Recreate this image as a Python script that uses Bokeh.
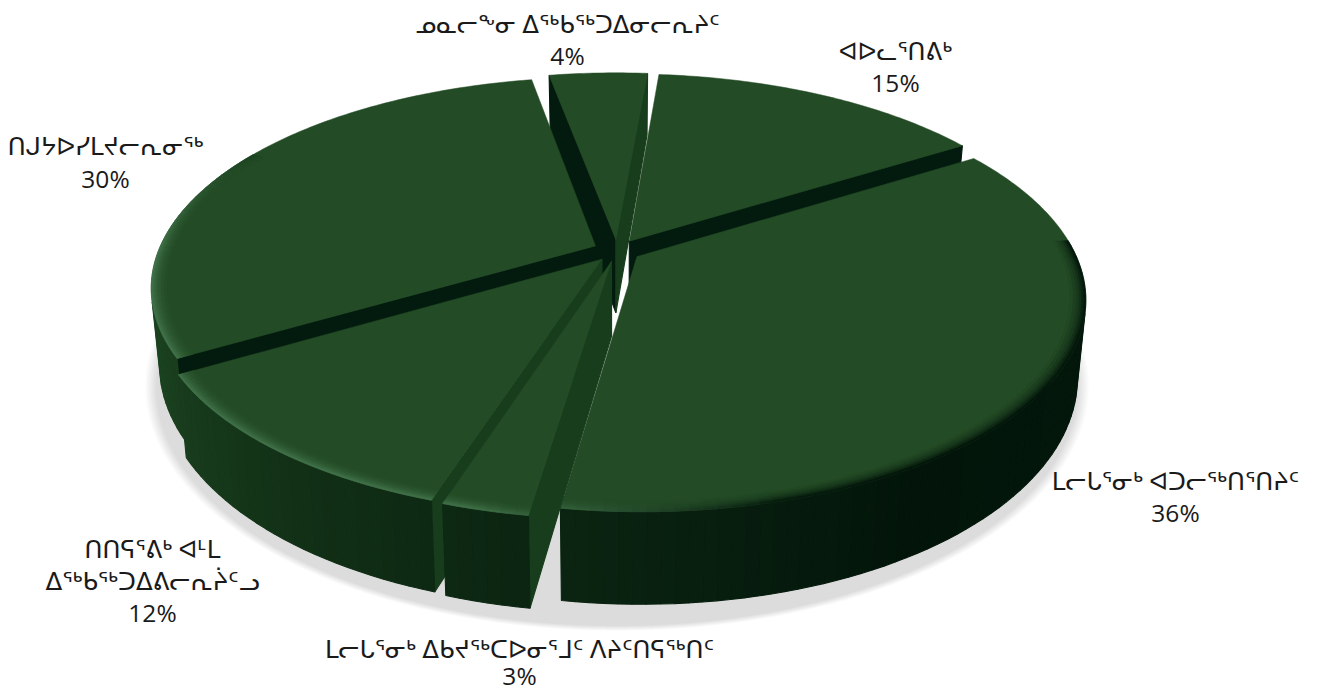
import numpy as np
from bokeh.plotting import figure
from bokeh.models import Range1d
from bokeh.core.properties import value
from bokeh.embed import file_html
from bokeh.resources import INLINE

# ---- data -------------------------------------------------------------
categories = [
    "ᓄᓇᓕᖕᓂ ᐃᖅᑲᖅᑐᐃᓂᓕᕆᔨᑦ",
    "ᐊᐅᓚᕐᑎᕕᒃ",
    "ᒪᓕᒐᕐᓂᒃ ᐊᑐᓕᖅᑎᕐᑎᔨᑦ",
    "ᒪᓕᒐᕐᓂᒃ ᐃᑲᔪᖅᑕᐅᓂᕐᒧᑦ ᐱᔨᑦᑎᕋᖅᑎᑦ",
    "ᑎᑎᕋᕐᕕᒃ ᐊᒻᒪ\nᐃᖅᑲᖅᑐᐃᕕᓕᕆᔩᑦᓗ",
    "ᑎᒍᔭᐅᓯᒪᔪᓕᕆᓂᖅ",
]
shares = [4.33, 14.78, 36.22, 2.61, 11.58, 30.48]

# ---- layout / style ---------------------------------------------------
START = 349.4          # clock angle where the first slice starts
CX, CY = 616.5, 250.0
R, K, P = 437.0, 0.4645, 0.194
EXPLODE = 24.0 / 442.0
H = 74.0
TAPER = 0.018
label_xy = [(567, 23, 55), (895, 50, 82), (1175, 480, 512),
            (519, 648, 675), (152, 548, 580, 612), (105, 145, 178)]
C_TOP = np.array([0x23, 0x4b, 0x25])
C_HI = np.array([0x3f, 0x70, 0x47])
RIM_STOPS = [(100, (4, 24, 12)), (150, (3, 21, 10)), (190, (11, 37, 18)),
             (215, (18, 48, 22)), (250, (27, 66, 32)), (300, (27, 66, 32)), (360, (27, 66, 32))]


def rgb(c):
    c = np.clip(np.round(c), 0, 255).astype(int)
    return "#%02x%02x%02x" % tuple(c)


def proj(X, Y, z=0.0):
    """Plane coordinates (unit radius, Y towards viewer) to page pixels."""
    s = 1.0 / (1.0 - P * Y)
    t = 1.0 - TAPER * z
    return CX + R * X * s * t, CY + K * R * Y * s + H * z * s


def polar(theta, r, ox, oy):
    a = np.radians(theta)
    return ox + r * np.sin(a), oy - r * np.cos(a)


def rim_colour(theta):
    th = theta % 360
    xs = [s[0] for s in RIM_STOPS]
    return np.array([np.interp(th, xs, [s[1][i] for s in RIM_STOPS]) for i in range(3)])


def signed_area(xs, ys):
    return 0.5 * sum(xs[i] * ys[(i + 1) % len(xs)] - xs[(i + 1) % len(xs)] * ys[i] for i in range(len(xs)))


p = figure(width=1318, height=692, x_range=Range1d(0, 1318), y_range=Range1d(692, 0),
           toolbar_location=None, output_backend="svg", min_border=0,
           outline_line_color=None, background_fill_color="white", border_fill_color="white")
p.axis.visible = False
p.grid.visible = False

# soft shadow: a ring under the pie, leaving the gaps near the centre white
ang = np.linspace(0, 360, 181)
for i in range(9):
    r = 1.075 - i * 0.003
    X, Y = polar(ang, r, 0, 0)
    Xi, Yi = polar(ang[::-1], 0.7, 0, 0)
    x, y = proj(np.r_[X, Xi], np.r_[Y, Yi], 1.0)
    p.patch(x, y + 11 + i * 0.4, fill_color="#777777", fill_alpha=0.03, line_color=None)

# slices
angles = np.cumsum([0] + shares) * 3.6 + START
slices = []
for i, sh in enumerate(shares):
    a0, a1 = angles[i], angles[i + 1]
    ox, oy = polar((a0 + a1) / 2, EXPLODE, 0, 0)
    slices.append((oy, i, a0, a1, ox, oy))
slices.sort()

for _, i, a0, a1, ox, oy in slices:
    px, py, pc = [], [], []

    def add(xs, ys, col):
        if signed_area(xs, ys) > 0:
            px.append(list(xs)); py.append(list(ys)); pc.append(col)

    # radial walls
    for th, side in ((a0, 0), (a1, 1)):
        ex, ey = polar(th, 1.0, ox, oy)
        x0, y0 = proj(ox, oy); x1, y1 = proj(ex, ey)
        x2, y2 = proj(ex, ey, 1.0); x3, y3 = proj(ox, oy, 1.0)
        normal = (th - 90) % 360 if side == 0 else (th + 90) % 360
        col = "#173d1c" if normal < 125 else "#031b0e"
        if side == 1:
            add([x0, x1, x2, x3], [y0, y1, y2, y3], col)
        else:
            add([x1, x0, x3, x2], [y1, y0, y3, y2], col)
    # outer rim
    n = max(int((a1 - a0) / 1.5), 3)
    th = np.linspace(a0, a1, n + 1)
    for j in range(n):
        ta, tb = th[j], th[j + 1]
        ax, ay = polar(ta, 1.0, ox, oy); bx, by = polar(tb, 1.0, ox, oy)
        x0, y0 = proj(ax, ay); x1, y1 = proj(bx, by)
        x2, y2 = proj(bx, by, 1.0); x3, y3 = proj(ax, ay, 1.0)
        add([x1, x0, x3, x2], [y1, y0, y3, y2], rgb(rim_colour((ta + tb) / 2)))
    p.patches(px, py, fill_color=pc, line_color=pc, line_width=1.1)

    # top face
    th = np.linspace(a0, a1, n * 2 + 1)
    ex, ey = polar(th, 1.0, ox, oy)
    tx, ty = proj(np.r_[ox, ex], np.r_[oy, ey])
    p.patch(tx, ty, fill_color=rgb(C_TOP), line_color=rgb(C_TOP), line_width=0.5)

    # bevel along the rim: blends the top colour to highlight / rim colour
    bands = [0.966, 0.973, 0.98, 0.986, 0.991, 0.996, 1.0]
    bx_, by_, bc_ = [], [], []
    for b in range(len(bands) - 1):
        r0, r1 = bands[b], bands[b + 1]
        f = (b + 1) / (len(bands) - 1)
        thb = np.linspace(a0, a1, n + 1)
        for j in range(n):
            ta, tb = thb[j], thb[j + 1]
            mid = ((ta + tb) / 2) % 360
            if not 85 <= mid <= 300:
                continue
            vis_hi = float(np.clip((mid - 165) / 30, 0, 1)) * (1 - float(np.clip((mid - 270) / 30, 0, 1)))
            rim = rim_colour(mid)
            target = C_HI * vis_hi + (1 - vis_hi) * rim
            col = C_TOP + (target - C_TOP) * (f ** 1.5)
            xa, ya = polar(ta, r0, 0, 0); xb, yb = polar(tb, r0, 0, 0)
            xc, yc = polar(tb, r1, 0, 0); xd, yd = polar(ta, r1, 0, 0)
            qx, qy = proj(np.array([xa, xb, xc, xd]) + ox, np.array([ya, yb, yc, yd]) + oy)
            bx_.append(list(qx)); by_.append(list(qy)); bc_.append(rgb(col))
    if bx_:
        p.patches(bx_, by_, fill_color=bc_, line_color=bc_, line_width=0.7)

# labels
FONT = value("Open Sans, DejaVu Sans")
for cat, sh, pos in zip(categories, shares, label_xy):
    lines = cat.split("\n") + [f"{round(sh)}%"]
    for ln, yy in zip(lines, pos[1:]):
        p.text([pos[0]], [yy], text=[ln], text_font=FONT, text_font_size="24.5px",
               text_color="#1a1a1a", text_align="center", text_baseline="middle")

open("out.html", "w").write(file_html(p, INLINE))
